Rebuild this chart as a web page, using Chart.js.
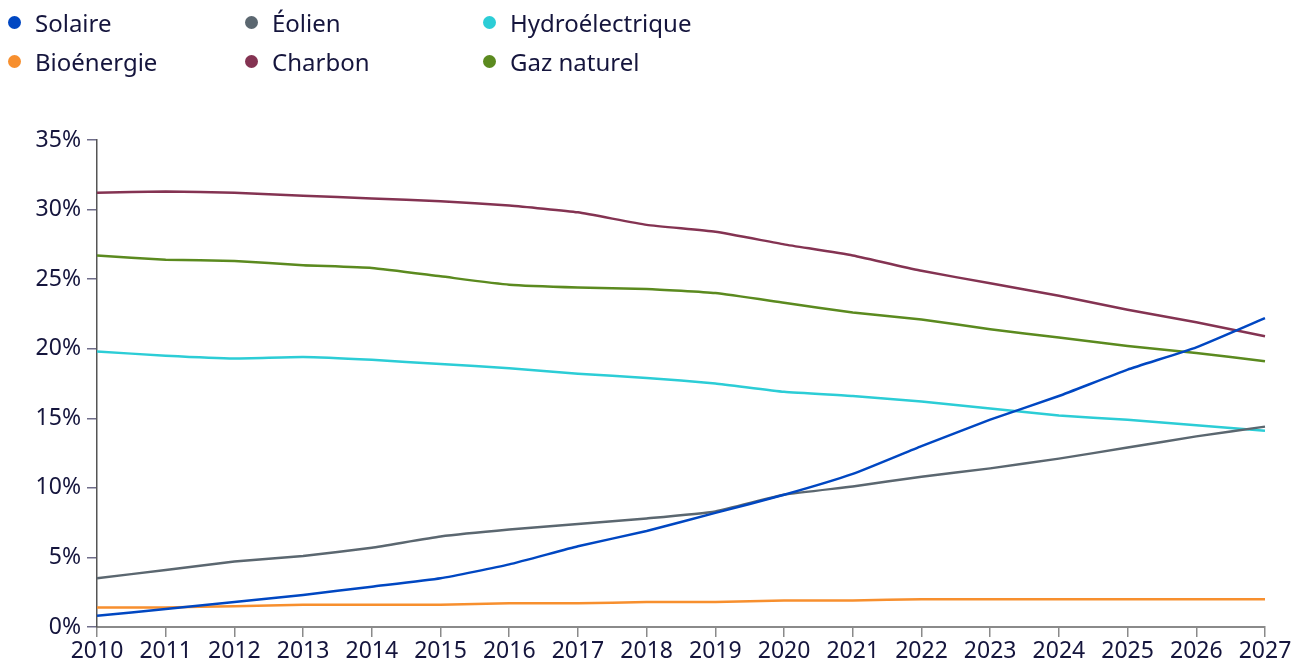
<!DOCTYPE html>
<html>
    <head>
        <meta charset="UTF-8">
        <title>Production d'électricité par source</title>
        <script src="https://cdn.jsdelivr.net/npm/chart.js"></script>
        <style>
            body { margin: 0; background: #ffffff; font-family: "Noto Sans", sans-serif; color: #15153d; }
            #wrap { position: relative; width: 1304px; height: 665px; }
            #legend { position: absolute; left: 4px; top: 5px; display: grid; grid-template-columns: 237px 238px 220px; row-gap: 5px; font-size: 24px; }
            .item { display: flex; align-items: center; height: 34px; }
            .dot { width: 13px; height: 13px; border-radius: 50%; margin-left: 4px; margin-right: 14px; }
            canvas { position: absolute; left: 0; top: 0; }
        </style>
    </head>
    <body>
        <div id="wrap">
            <canvas id="chart_canvas" width="1304" height="665"></canvas>
            <div id="legend"></div>
        </div>

    <script>
//                                                              DATA
//---------------------------------------------------------------------------------------------------------------------------------------------------------
    const years = ['2010','2011','2012','2013','2014','2015','2016','2017','2018','2019','2020','2021','2022','2023','2024','2025','2026','2027'];

    const solaire      = [0.8, 1.3, 1.8, 2.3, 2.9, 3.5, 4.5, 5.8, 6.9, 8.2, 9.5, 11.0, 13.0, 14.9, 16.6, 18.5, 20.1, 22.2];
    const eolien       = [3.5, 4.1, 4.7, 5.1, 5.7, 6.5, 7.0, 7.4, 7.8, 8.3, 9.5, 10.1, 10.8, 11.4, 12.1, 12.9, 13.7, 14.4];
    const hydro        = [19.8, 19.5, 19.3, 19.4, 19.2, 18.9, 18.6, 18.2, 17.9, 17.5, 16.9, 16.6, 16.2, 15.7, 15.2, 14.9, 14.5, 14.1];
    const bioenergie   = [1.4, 1.4, 1.5, 1.6, 1.6, 1.6, 1.7, 1.7, 1.8, 1.8, 1.9, 1.9, 2.0, 2.0, 2.0, 2.0, 2.0, 2.0];
    const charbon      = [31.2, 31.3, 31.2, 31.0, 30.8, 30.6, 30.3, 29.8, 28.9, 28.4, 27.5, 26.7, 25.6, 24.7, 23.8, 22.8, 21.9, 20.9];
    const gaz          = [26.7, 26.4, 26.3, 26.0, 25.8, 25.2, 24.6, 24.4, 24.3, 24.0, 23.3, 22.6, 22.1, 21.4, 20.8, 20.2, 19.7, 19.1];

    const yTicks = [0, 5, 10, 15, 20, 25, 30, 35];

    // legend order: row by row
    const series = [
        { label: 'Solaire',       data: solaire,    color: '#0047c2' },
        { label: 'Éolien',        data: eolien,     color: '#5b6770' },
        { label: 'Hydroélectrique', data: hydro,    color: '#2ccdd6' },
        { label: 'Bioénergie',    data: bioenergie, color: '#f78f2e' },
        { label: 'Charbon',       data: charbon,    color: '#843352' },
        { label: 'Gaz naturel',   data: gaz,        color: '#5b8a1f' },
    ];

//                                                              LEGEND
//---------------------------------------------------------------------------------------------------------------------------------------------------------
    let legend = document.getElementById('legend');
    series.forEach(s => {
        let item = document.createElement('div');
        item.className = 'item';
        item.innerHTML = '<span class="dot" style="background:' + s.color + '"></span>' + s.label;
        legend.appendChild(item);
    });

//                                                              CHART
//---------------------------------------------------------------------------------------------------------------------------------------------------------
    const tickFont = { family: 'Noto Sans', size: 23 };
    const textColor = '#15153d';

    let chart_location = document.getElementById('chart_canvas');
    let chart = new Chart(chart_location, {
        type: 'line',
        data: {
            labels: years,
            datasets: series.map(s => ({
                label: s.label,
                data: s.data,
                borderColor: s.color,
                backgroundColor: s.color,
                borderWidth: 2.5,
                pointRadius: 0,
                tension: 0.15,
            })),
        },
        options: {
            responsive: false,
            animation: false,
            layout: { padding: { top: 140, right: 39, left: 0, bottom: 0 } },
            plugins: {
                legend: { display: false },
                tooltip: { enabled: false },
            },
            scales: {
                x: {
                    offset: false,
                    grid: { drawOnChartArea: false, tickLength: 10, color: '#8a8a8a', lineWidth: 1.5 },
                    border: { color: '#8a8a8a', width: 2 },
                    ticks: { color: textColor, font: tickFont, maxRotation: 0, autoSkip: false, padding: 1 },
                    afterFit: function (scale) { scale.height = 38; },
                },
                y: {
                    min: 0,
                    max: 35,
                    afterBuildTicks: function (scale) { scale.ticks = yTicks.map(v => ({ value: v })); },
                    grid: { drawOnChartArea: false, tickLength: 10, color: '#6f6d8a', lineWidth: 1.5 },
                    border: { color: '#555555', width: 1.5 },
                    ticks: { color: textColor, font: tickFont, padding: 6, callback: v => v + '%' },
                    afterFit: function (scale) { scale.width = 97; },
                },
            },
        },
    });
    </script>
    </body>
</html>
